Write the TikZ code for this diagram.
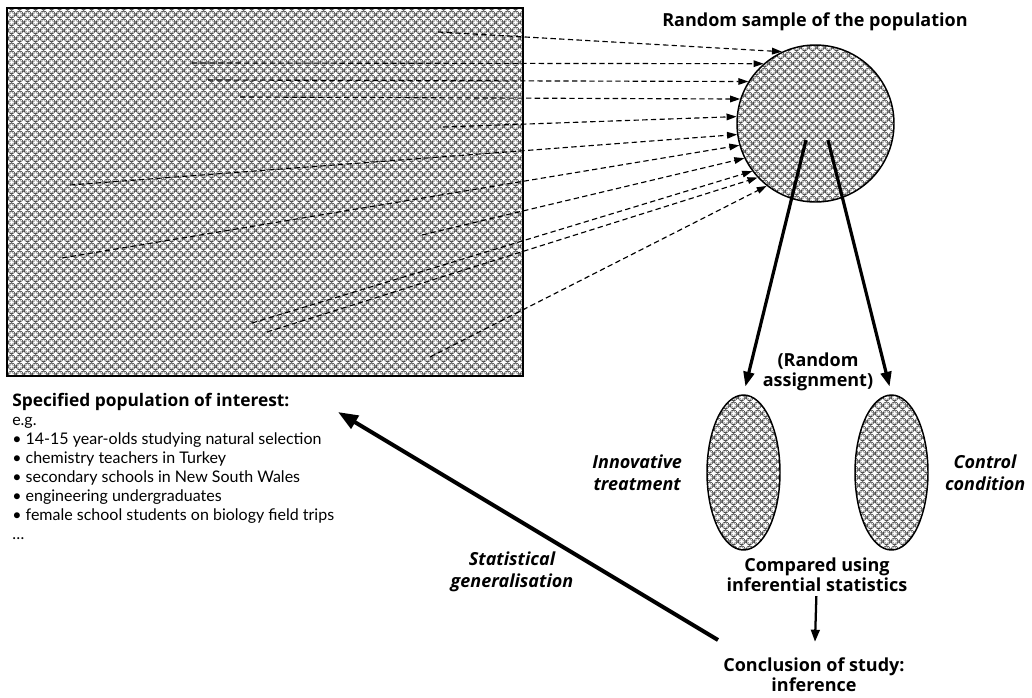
\documentclass[tikz,border=0pt]{standalone}
\usepackage{fontspec}
\setmainfont{Lato}
\newfontfamily\headfont{Open Sans}
\usetikzlibrary{arrows.meta,positioning,patterns,shapes.geometric}

\pgfdeclarepatterninherentlycolored{rings}
{\pgfqpoint{0pt}{0pt}}{\pgfqpoint{5.7pt}{5.7pt}}{\pgfqpoint{5.7pt}{5.7pt}}
{
  \pgfsetlinewidth{0.42pt}
  \pgfsetstrokecolor{black!45}
  \pgfpathcircle{\pgfqpoint{0pt}{0pt}}{2.75pt}
  \pgfpathcircle{\pgfqpoint{5.7pt}{0pt}}{2.75pt}
  \pgfpathcircle{\pgfqpoint{0pt}{5.7pt}}{2.75pt}
  \pgfpathcircle{\pgfqpoint{5.7pt}{5.7pt}}{2.75pt}
  \pgfusepath{stroke}
  \pgfsetstrokecolor{black!85}
  \pgfpathcircle{\pgfqpoint{2.85pt}{2.85pt}}{2.75pt}
  \pgfusepath{stroke}
}

\begin{document}
\begin{tikzpicture}[x=0.75pt,y=-0.75pt,font=\fontsize{12}{14.25}\selectfont]
  \tikzstyle{crowd}=[draw=black,line width=1.1pt,pattern=rings]
  \tikzstyle{pick}=[-{Triangle[length=7.5pt,width=5pt]},dash pattern=on 4pt off 2.5pt,line width=0.85pt]
  \tikzstyle{assign}=[-{Triangle[length=11pt,width=8pt]},line width=2.4pt,shorten >=6pt]
  \tikzstyle{heading}=[font=\headfont\bfseries\fontsize{13.5}{15}\selectfont,align=center,inner sep=0pt]
  \tikzstyle{side}=[font=\headfont\bfseries\itshape\fontsize{13.5}{16.5}\selectfont,align=center,inner sep=0pt]

  \useasboundingbox (0,0) rectangle (1032,697);

  \node[crowd,rectangle,line width=1.5pt,minimum width=387pt,minimum height=276pt] (pop) at (265,192) {};
  \node[crowd,circle,minimum size=117.75pt] (sample) at (815.5,123.5) {};
  \node[heading] (title) at (815,22) {Random sample of the population};

  \node[crowd,ellipse,minimum width=54.75pt,minimum height=116.25pt] (treat) at (743.5,472.5) {};
  \node[crowd,ellipse,minimum width=54.75pt,minimum height=116.25pt] (ctrl) at (891.5,472.5) {};
  \node[heading] (assign) at (818,372) {(Random\\assignment)};
  \node[side] (innov) [left=18pt of treat] {Innovative\\treatment};
  \node[side] (cond) [right=12pt of ctrl] {Control\\condition};

  \node[heading] (cmp) at (817,575) {Compared using\\inferential statistics};
  \node[heading] (concl) at (814,675) {Conclusion of study:\\inference};
  \node[side] (gen) at (512,572) {Statistical\\generalisation};

  \node[anchor=north west,align=left,inner sep=0pt] (note) at (12,393)
    {{\headfont\bfseries\fontsize{13}{14.25}\selectfont Specified population of interest:}\\
     e.g.\\
     • 14-15 year-olds studying natural selection\\
     • chemistry teachers in Turkey\\
     • secondary schools in New South Wales\\
     • engineering undergraduates\\
     • female school students on biology field trips\\
     …};

  % members drawn from the population
  \foreach \x/\y [count=\i] in {438/32,192/63,208/80,240/97,443/127,70/185,62/258,422/235,252/323,267/332,430/357}
    \coordinate (s\i) at (\x,\y);
  \foreach \a [count=\i] in {115,131.5,148,162,175.5,188,196.5,206,217.5,223.5,232}
    \draw[pick] (s\i) -- (sample.\a);

  \coordinate (a1) at (806,140);
  \coordinate (a2) at (828,140);
  \draw[assign] (a1) -- (treat.north);
  \draw[assign] (a2) -- (ctrl.north);

  \draw[-{Triangle[length=9pt,width=6.5pt]},line width=1.7pt,shorten <=3pt,shorten >=12pt] (cmp) -- (concl);

  \coordinate (g1) at (718,640);
  \coordinate (g2) at (338,412);
  \draw[-{Triangle[length=15pt,width=11pt]},line width=3pt] (g1) -- (g2);
\end{tikzpicture}
\end{document}
